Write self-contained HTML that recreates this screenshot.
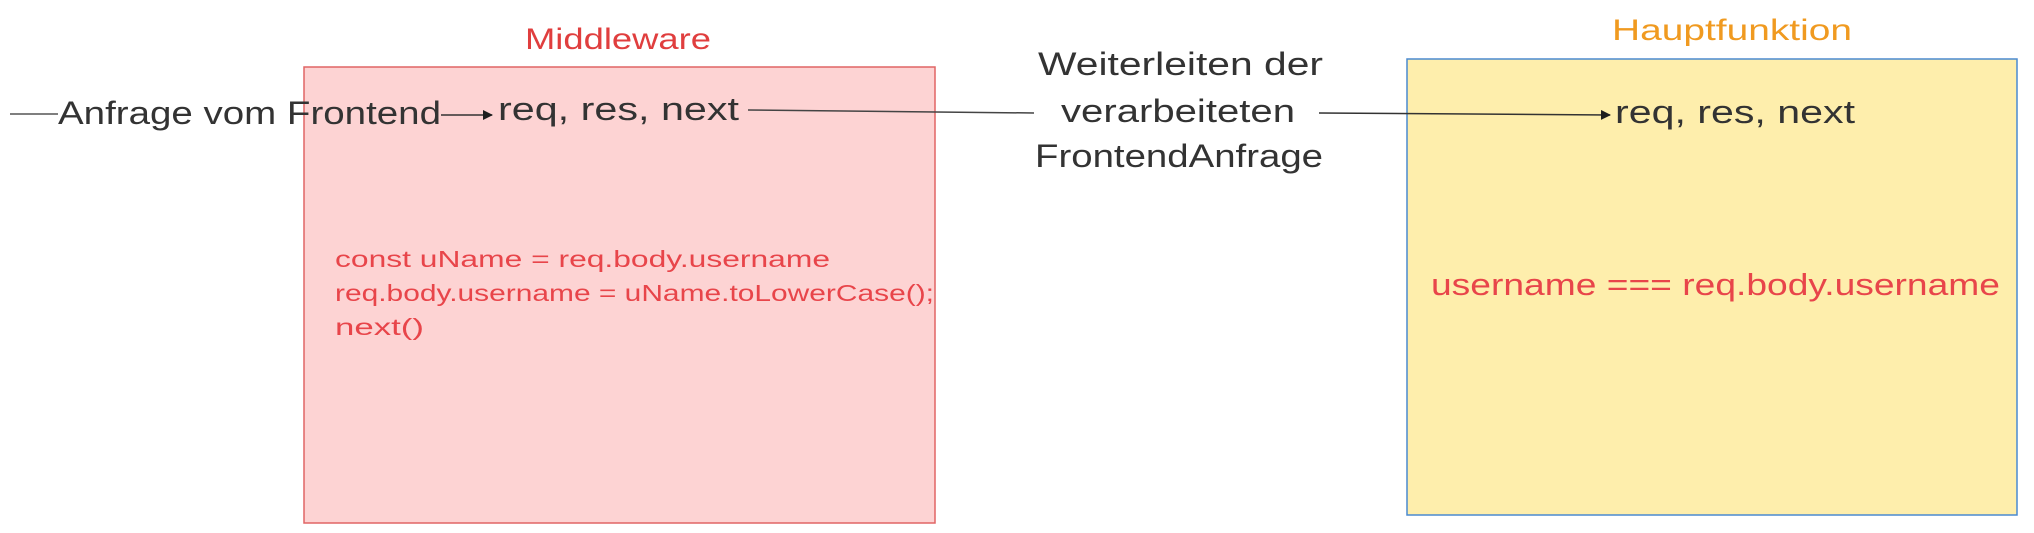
<!DOCTYPE html>
<html><head><meta charset="utf-8"><style>html,body{margin:0;padding:0;background:#fff}svg{display:block}</style></head>
<body>
<svg width="2034" height="533" viewBox="0 0 2034 533" xmlns="http://www.w3.org/2000/svg" font-family="Liberation Sans, sans-serif">
<defs><marker id="ah" markerWidth="10" markerHeight="10" refX="9" refY="5" orient="auto" markerUnits="userSpaceOnUse"><path d="M0,0 L10,5 L0,10 z" fill="#1e1e1e"/></marker></defs>
<rect x="304" y="67" width="631" height="456" fill="#fdd3d3" stroke="#e06565" stroke-width="1.5"/>
<rect x="1407" y="59" width="610" height="456" fill="#feeeac" stroke="#4a8ad0" stroke-width="1.5"/>
<text x="525" y="49" font-size="30" fill="#e03e3e" textLength="186" lengthAdjust="spacingAndGlyphs">Middleware</text>
<text x="1612" y="40" font-size="30" fill="#f09a20" textLength="240" lengthAdjust="spacingAndGlyphs">Hauptfunktion</text>
<line x1="10" y1="114" x2="58" y2="114" stroke="#555" stroke-width="1.5"/>
<text x="58" y="124" font-size="32" fill="#333" textLength="383" lengthAdjust="spacingAndGlyphs">Anfrage vom Frontend</text>
<line x1="441" y1="115" x2="492" y2="115" stroke="#333" stroke-width="1.5" marker-end="url(#ah)"/>
<text x="498" y="120" font-size="32" fill="#333" textLength="241" lengthAdjust="spacingAndGlyphs">req, res, next</text>
<line x1="748" y1="110" x2="1034" y2="113" stroke="#444" stroke-width="1.5"/>
<text x="1038" y="75" font-size="32" fill="#333" textLength="285" lengthAdjust="spacingAndGlyphs">Weiterleiten der</text>
<text x="1061" y="122" font-size="32" fill="#333" textLength="234" lengthAdjust="spacingAndGlyphs">verarbeiteten</text>
<text x="1035" y="167" font-size="32" fill="#333" textLength="288" lengthAdjust="spacingAndGlyphs">FrontendAnfrage</text>
<line x1="1319" y1="113" x2="1610" y2="115" stroke="#333" stroke-width="1.5" marker-end="url(#ah)"/>
<text x="1615" y="123" font-size="32" fill="#333" textLength="240" lengthAdjust="spacingAndGlyphs">req, res, next</text>
<text x="335" y="267" font-size="23" fill="#e8454a" textLength="495" lengthAdjust="spacingAndGlyphs">const uName = req.body.username</text>
<text x="335" y="301" font-size="23" fill="#e8454a" textLength="599" lengthAdjust="spacingAndGlyphs">req.body.username = uName.toLowerCase();</text>
<text x="335" y="335" font-size="23" fill="#e8454a" textLength="89" lengthAdjust="spacingAndGlyphs">next()</text>
<text x="1431" y="295" font-size="31" fill="#e8454a" textLength="569" lengthAdjust="spacingAndGlyphs">username === req.body.username</text>
</svg>
</body></html>
